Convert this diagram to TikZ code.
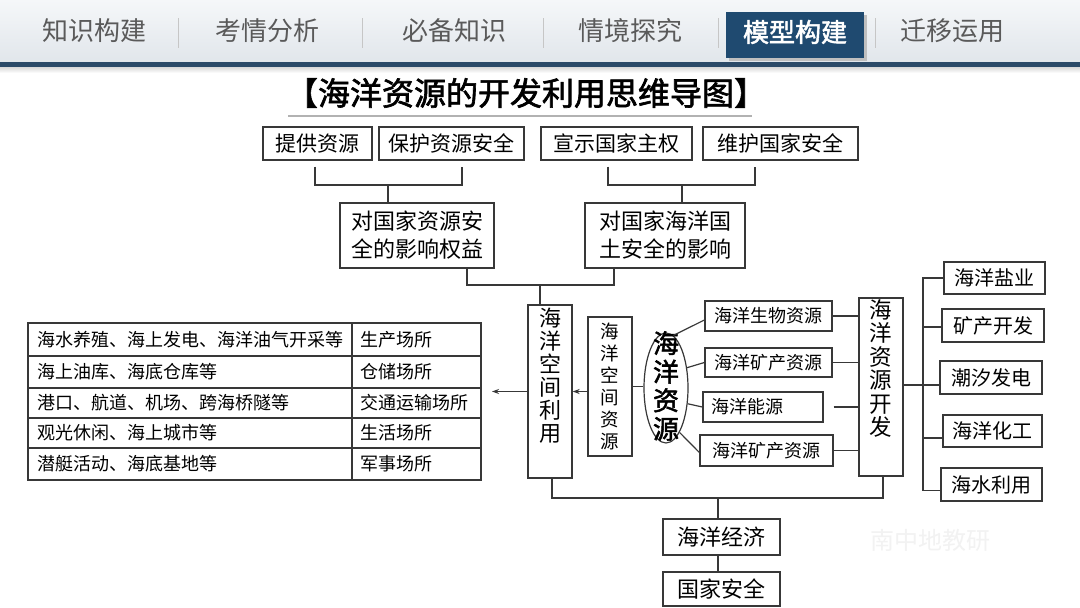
\documentclass[tikz,border=0pt]{standalone}
\usepackage{fontspec}
\setmainfont{Noto Sans CJK SC}[AutoFakeBold=2]
\usetikzlibrary{shapes.geometric,arrows.meta,calc}
\definecolor{tabblue}{HTML}{1F4A70}
\definecolor{barline}{HTML}{2B4A68}
\definecolor{tabtxt}{HTML}{5A5A5A}
\definecolor{ink}{HTML}{383838}
\definecolor{bartop}{HTML}{F5F7F9}
\definecolor{barbot}{HTML}{E1E6EB}
\newcommand\myfs[2]{\fontsize{#1}{#2}\selectfont}
\begin{document}
\begin{tikzpicture}[x=1pt,y=-1pt,
  box/.style={draw=ink,line width=1.3pt,inner sep=0pt,align=center,text=black},
  topbox/.style={box,minimum height=33pt,font=\myfs{21}{25}},
  midbox/.style={box,minimum height=65pt,font=\myfs{22}{28}},
  resbox/.style={box,font=\myfs{18}{22}},
  rbox/.style={box,font=\myfs{20}{24}},
  vtext/.style={inner sep=0pt,align=center,text=black},
  conn/.style={draw=ink,line width=1.2pt},
  arr/.style={conn,-{Stealth[length=7pt,width=5pt]}},
  tab/.style={text=tabtxt,font=\myfs{26}{30}},
  sep/.style={draw=gray!45,line width=1pt},
  cell/.style={anchor=west,inner sep=0pt,font=\myfs{18}{22},text=black}]
\useasboundingbox (0,0) rectangle (1080,608);
\fill[white] (0,0) rectangle (1080,608);
% top bar
\shade[top color=bartop,bottom color=barbot] (0,0) rectangle (1080,62);
\fill[barline] (0,62) rectangle (1080,67);
\shade[top color=black!15,bottom color=white] (0,67) rectangle (1080,73);
\node[tab] (t1) at (94,31) {知识构建};
\node[tab] (t2) at (267,31) {考情分析};
\node[tab] (t3) at (454,31) {必备知识};
\node[tab] (t4) at (630,31) {情境探究};
\fill[black!25] (729,15) rectangle (867,61);
\node[fill=tabblue,minimum width=138pt,minimum height=46pt,inner sep=0pt] (t5) at (795,35) {};
\node[text=white,font=\myfs{26}{30}\bfseries,inner sep=0pt] (t5t) at (795,32) {模型构建};
\node[tab] (t6) at (952,31) {迁移运用};
\foreach \sx in {178,362,543,718,875} \draw[sep] (\sx,18) -- (\sx,48);
% title
\node[font=\myfs{32}{36}\bfseries,text=black] (title) at (526,93) {【海洋资源的开发利用思维导图】};
\draw[gray!60,line width=1.5pt] (288,116) -- (752,116);
% top row
\node[topbox,minimum width=109pt] (tg) at (317.5,143.5) {提供资源};
\node[topbox,minimum width=145pt] (bh) at (451.5,143.5) {保护资源安全};
\node[topbox,minimum width=151pt] (xs) at (616.5,143.5) {宣示国家主权};
\node[topbox,minimum width=155pt] (wh) at (780.5,143.5) {维护国家安全};
% middle boxes
\node[midbox,minimum width=154pt] (zy) at (417,235.5) {对国家资源安\\全的影响权益};
\node[midbox,minimum width=160pt] (zh) at (665,235.5) {对国家海洋国\\土安全的影响};
\coordinate (j1) at (388,185);
\coordinate (j2) at (682,185);
\draw[conn] ([xshift=-2.5pt,yshift=-6pt]tg.south) |- (j1) -| ([xshift=10.5pt,yshift=-6pt]bh.south);
\draw[conn] (j1) -- (j1 |- zy.north);
\draw[conn] ([xshift=-8.5pt,yshift=-6pt]xs.south) |- (j2) -| ([xshift=-25.5pt,yshift=-6pt]wh.south);
\draw[conn] (j2) -- (j2 |- zh.north);
% central area
\node[box,minimum width=44pt,minimum height=173pt] (kj) at (550,391.5) {};
\node[vtext,anchor=north,font=\myfs{22}{23}] (kjt) at ([yshift=-3pt]kj.north) {海\\洋\\空\\间\\利\\用};
\node[resbox,minimum width=44pt,minimum height=139pt,font=\myfs{18.5}{22}] (kz) at (610,386.5) {海\\洋\\空\\间\\资\\源};
\node[ellipse,draw=ink,line width=1.2pt,minimum width=44pt,minimum height=110pt,inner sep=0pt] (zy2) at (666,388) {};
\node[vtext,font=\myfs{26}{28.5}\bfseries] (zy2t) at (666,386) {海\\洋\\资\\源};
\node[resbox,minimum width=127pt,minimum height=30pt] (sw) at (768.5,316) {海洋生物资源};
\node[resbox,minimum width=127pt,minimum height=29pt] (kc1) at (768.5,362.5) {海洋矿产资源};
\node[resbox,minimum width=120pt,minimum height=30pt] (ny) at (763,407) {\hspace*{-32pt}海洋能源};
\node[resbox,minimum width=133pt,minimum height=31pt] (kc2) at (766.5,450.5) {海洋矿产资源};
\node[box,minimum width=44pt,minimum height=178pt] (kf) at (881,387) {};
\node[vtext,anchor=north,font=\myfs{22.5}{23.4}] (kft) at ([yshift=-2pt]kf.north) {海\\洋\\资\\源\\开\\发};
\coordinate (j3) at (540,285);
\draw[conn] ([xshift=50pt]zy.south) |- (j3) -| ([xshift=-51pt]zh.south);
\draw[conn] (j3) -- (j3 |- kj.north);
\draw[conn] (zy2.82) -- ([yshift=-4pt]sw.west);
\draw[conn] (zy2.44) -- (kc1.west);
\draw[conn] (zy2.-36) -- (ny.west);
\draw[conn] (zy2.-73) -- ([yshift=-2pt]kc2.west);
\draw[conn] (kz.east) -- (kz.east -| zy2.west);
\draw[arr] (kz.west |- kj.east) -- (kj.east);
\draw[conn] (sw.east) -- (sw.east -| kf.west);
\draw[conn] (kc1.east) -- (kc1.east -| kf.west);
\coordinate (nyg) at ([xshift=10pt]ny.east);
\draw[conn] (nyg) -- (nyg -| kf.west);
\draw[conn] (kc2.east) -- (kc2.east -| kf.west);
% right column
\node[rbox,minimum width=101pt,minimum height=32pt] (yy) at (994.5,278) {海洋盐业};
\node[rbox,minimum width=102pt,minimum height=33pt] (kk) at (993,325.5) {矿产开发};
\node[rbox,minimum width=102pt,minimum height=33pt] (cx) at (991,377.5) {潮汐发电};
\node[rbox,minimum width=99pt,minimum height=32pt] (hg) at (992.5,431) {海洋化工};
\node[rbox,minimum width=101pt,minimum height=33pt] (hs) at (991.5,484.5) {海水利用};
\coordinate (tr) at (923,385);
\draw[conn] (kf.east |- tr) -- (tr);
\draw[conn] (yy.west) -| (tr);
\draw[conn] ([yshift=-6pt]hs.west) -| (tr);
\draw[conn] ([yshift=-1.5pt]kk.west) -- ([yshift=-1.5pt]kk.west -| tr);
\draw[conn] ([yshift=-7.5pt]cx.west) -- ([yshift=-7.5pt]cx.west -| tr);
\draw[conn] ([yshift=-7pt]hg.west) -- ([yshift=-7pt]hg.west -| tr);
% bottom
\node[box,minimum width=117pt,minimum height=36pt,font=\myfs{22}{26}] (hj) at (721.5,537) {海洋经济};
\node[box,minimum width=117pt,minimum height=34pt,font=\myfs{22}{26}] (gj) at (721.5,589) {国家安全};
\coordinate (j4) at (718,498);
\draw[conn] ([xshift=2pt]kj.south) |- (j4) -| ([xshift=2pt]kf.south);
\draw[conn] (j4) -- (j4 |- hj.north);
\draw[conn] (hj.south -| j4) -- (gj.north -| j4);
\node[text=black!5,font=\myfs{24}{28}] (wm) at (930,540) {南中地教研};
% table
\draw[ink,line width=1.1pt] (28,323) rectangle (481,480);
\draw[ink,line width=1.1pt] (352,323) -- (352,480);
\foreach \ry in {356,388,418,448} \draw[ink,line width=1.1pt] (28,\ry) -- (481,\ry);
\node[cell] (r1a) at (37,339.5) {海水养殖、海上发电、海洋油气开采等};
\node[cell] (r2a) at (37,372) {海上油库、海底仓库等};
\node[cell] (r3a) at (37,403) {港口、航道、机场、跨海桥隧等};
\node[cell] (r4a) at (37,433) {观光休闲、海上城市等};
\node[cell] (r5a) at (37,464) {潜艇活动、海底基地等};
\node[cell] (r1b) at (360,339.5) {生产场所};
\node[cell] (r2b) at (360,372) {仓储场所};
\node[cell] (r3b) at (360,403) {交通运输场所};
\node[cell] (r4b) at (360,433) {生活场所};
\node[cell] (r5b) at (360,464) {军事场所};
\coordinate (tarr) at (492,391.5);
\draw[arr] (kj.west) -- (tarr);
\end{tikzpicture}
\end{document}
